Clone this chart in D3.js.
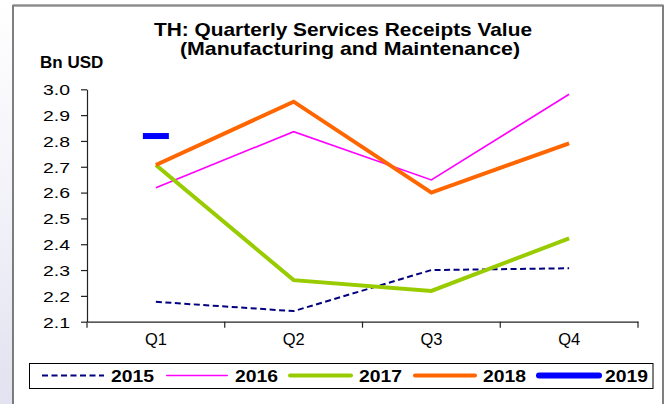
<!DOCTYPE html>
<html><head><meta charset="utf-8">
<script src="https://cdn.jsdelivr.net/npm/d3@7"></script>
<style>body{margin:0;background:#fff}svg{display:block}text{font-family:"Liberation Sans",Arial,sans-serif}</style>
</head><body>
<script>
const categories = ["Q1","Q2","Q3","Q4"];
const years = ["2015","2016","2017","2018","2019"];
const s2015 = [2.177, 2.141, 2.300, 2.307];
const s2016 = [2.619, 2.836, 2.649, 2.981];
const s2017 = [2.707, 2.261, 2.219, 2.423];
const s2018 = [2.707, 2.952, 2.600, 2.791];
const s2019 = [2.819, null, null, null];
const yTicks = [2.1,2.2,2.3,2.4,2.5,2.6,2.7,2.8,2.9,3.0];
const title1 = "TH: Quarterly Services Receipts Value";
const title2 = "(Manufacturing and Maintenance)";
const yLabel = "Bn USD";

const W = 669, H = 404;
const svg = d3.select("body").append("svg").attr("width", W).attr("height", H);

const defs = svg.append("defs");
const g1 = defs.append("linearGradient").attr("id","bg").attr("x1","0").attr("y1","0").attr("x2","0").attr("y2","1");
g1.append("stop").attr("offset","0").attr("stop-color","#ffffff");
g1.append("stop").attr("offset","0.5").attr("stop-color","#f2f2f9");
g1.append("stop").attr("offset","1").attr("stop-color","#e2e2f0");
svg.append("rect").attr("x",0).attr("y",0).attr("width",13).attr("height",H).attr("fill","url(#bg)");

// frame
svg.append("rect").attr("x",13).attr("y",5.5).attr("width",650).attr("height",410)
  .attr("fill","#fff").attr("stroke","#555").attr("stroke-width",1.5);
svg.append("line").attr("x1",13).attr("x2",663).attr("y1",5.5).attr("y2",5.5).attr("stroke","#888").attr("stroke-width",2);

const x0 = 87, x1 = 638, yTop = 89.3, yBot = 321.7;
const xBand = d3.scaleBand().domain(categories).range([x0, x1]).padding(0);
const xPt = d => xBand(d) + xBand.bandwidth()/2;
const y = d3.scaleLinear().domain([2.1, 3.0]).range([yBot, yTop]);

// title
svg.append("text").attr("x",343).attr("y",36).attr("text-anchor","middle")
  .attr("font-size",19).attr("font-weight","bold")
  .attr("textLength",378).attr("lengthAdjust","spacingAndGlyphs").text(title1);
svg.append("text").attr("x",350).attr("y",55).attr("text-anchor","middle")
  .attr("font-size",19).attr("font-weight","bold")
  .attr("textLength",340).attr("lengthAdjust","spacingAndGlyphs").text(title2);
svg.append("text").attr("x",40).attr("y",68).attr("font-size",17).attr("font-weight","bold").text(yLabel);

// y axis
const yAxis = d3.axisLeft(y).tickValues(yTicks).tickFormat(d3.format(".1f")).tickSize(6).tickSizeOuter(0).tickPadding(11);
const ga = svg.append("g").attr("transform",`translate(${x0},0)`).call(yAxis);
ga.select(".domain").attr("stroke","#222").attr("stroke-width",1.2);
ga.selectAll(".tick line").attr("stroke","#222").attr("stroke-width",1.2);
ga.selectAll(".tick text").attr("font-size",15).attr("fill","#000").attr("font-family","Liberation Sans, Arial, sans-serif")
  .attr("textLength",27).attr("lengthAdjust","spacingAndGlyphs").attr("dy","0.36em");

// x axis
const xAxis = d3.axisBottom(xBand).tickSize(0).tickPadding(12);
const gx = svg.append("g").attr("transform",`translate(0,${yBot})`).call(xAxis);
gx.select(".domain").attr("stroke","#222").attr("stroke-width",1.2);
gx.selectAll(".tick text").attr("font-size",16).attr("fill","#000").attr("font-family","Liberation Sans, Arial, sans-serif")
  .attr("textLength",22).attr("lengthAdjust","spacingAndGlyphs");
const bounds = categories.map(c => xBand(c)).concat([x1]);
svg.append("g").selectAll("line").data(bounds).join("line")
  .attr("x1",d=>d).attr("x2",d=>d).attr("y1",yBot).attr("y2",yBot+6).attr("stroke","#222").attr("stroke-width",1.2);

const series = [
  {name:"2015", vals:s2015, color:"#000080", width:2, dash:"6,3.5"},
  {name:"2016", vals:s2016, color:"#ff00ff", width:1.6, dash:null},
  {name:"2017", vals:s2017, color:"#99cc00", width:4, dash:null},
  {name:"2018", vals:s2018, color:"#ff6600", width:4, dash:null},
  {name:"2019", vals:s2019, color:"#0000ff", width:6, dash:null}
];
const line = d3.line().defined(d => d.v != null).x(d => xPt(d.c)).y(d => y(d.v));
series.forEach(s => {
  const pts = categories.map((c,i) => ({c, v:s.vals[i]}));
  svg.append("path").datum(pts).attr("d", line).attr("fill","none")
    .attr("stroke", s.color).attr("stroke-width", s.width)
    .attr("stroke-dasharray", s.dash).attr("stroke-linejoin","miter");
  const valid = pts.filter(p => p.v != null);
  if (valid.length === 1) {
    svg.append("rect").attr("x", xPt(valid[0].c) - 13).attr("y", y(valid[0].v) - 3)
      .attr("width", 26).attr("height", 6).attr("fill", s.color);
  }
});

// legend
svg.append("rect").attr("x",29.5).attr("y",363.5).attr("width",623.5).attr("height",25)
  .attr("fill","#fff").attr("stroke","#000").attr("stroke-width",1);
const legL = [42, 166, 288, 413, 536];
const legR = [104, 228, 353, 477, 602];
const legT = [111, 235, 359, 483, 605];
const ly = 375.5;
series.forEach((s,i) => {
  const inset = s.dash ? 0 : s.width/2;
  svg.append("line").attr("x1",legL[i]+inset).attr("x2",legR[i]-inset).attr("y1",ly).attr("y2",ly)
    .attr("stroke",s.color).attr("stroke-width",s.width).attr("stroke-dasharray",s.dash)
    .attr("stroke-linecap", s.dash ? "butt" : "round");
  svg.append("text").attr("x",legT[i]).attr("y",ly+6).attr("font-size",17).attr("font-weight","bold")
    .attr("textLength",43).attr("lengthAdjust","spacingAndGlyphs").text(s.name);
});
</script>
</body></html>
